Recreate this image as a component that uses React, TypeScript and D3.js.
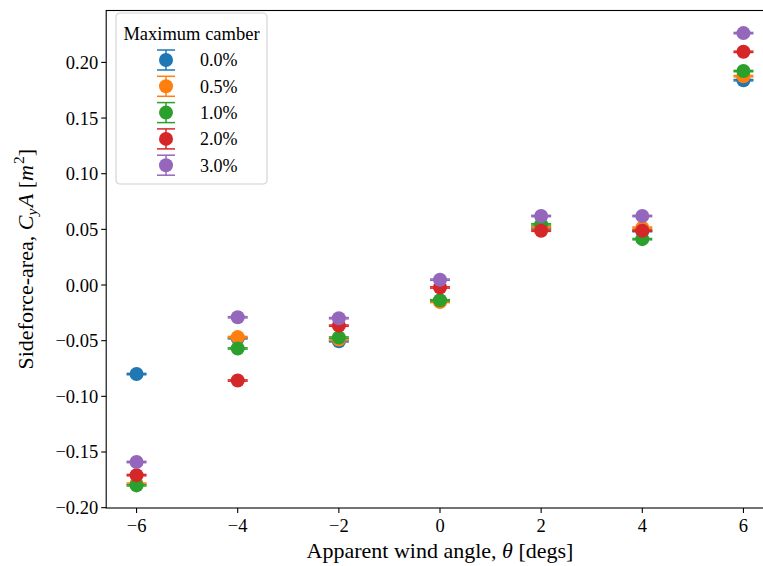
import React from "react";
import * as d3 from "d3";

// apparent wind angle [degs]
const angles = [-6, -4, -2, 0, 2, 4, 6];

const cambers = ["0.0%", "0.5%", "1.0%", "2.0%", "3.0%"];
const colors = ["#1f77b4", "#ff7f0e", "#2ca02c", "#d62728", "#9467bd"];

// sideforce-area C_yA [m^2], one list per camber
const camber00 = [-0.08, -0.0478, -0.0505, -0.0142, 0.051, 0.0485, 0.184];
const camber05 = [-0.1785, -0.0468, -0.049, -0.0152, 0.052, 0.0515, 0.1876];
const camber10 = [-0.18, -0.057, -0.0472, -0.0137, 0.0545, 0.0412, 0.1922];
const camber20 = [-0.1708, -0.0858, -0.0365, -0.0022, 0.0488, 0.0488, 0.2095];
const camber30 = [-0.159, -0.029, -0.0298, 0.0048, 0.062, 0.062, 0.2263];
const series = [camber00, camber05, camber10, camber20, camber30];

// standard error, tiny
const errs = [0.0006, 0.0006, 0.0006, 0.0006, 0.0006, 0.0006, 0.0006];

const xTicks = [-6, -4, -2, 0, 2, 4, 6];
const yTicks = [-0.2, -0.15, -0.1, -0.05, 0, 0.05, 0.1, 0.15, 0.2];

const W = 763;
const H = 566;
const font = "'Liberation Serif', 'Times New Roman', serif";

const fmt = (v: number) => d3.format(".2f")(v).replace("-", "\u2212");

export default function App() {
  // matplotlib style 5% margins
  const xPad = (6 - -6) * 0.05;
  const allY = series.flat();
  const [yLo, yHi] = d3.extent(allY) as [number, number];
  const yPad = (yHi - yLo) * 0.05;

  const x = d3.scaleLinear().domain([-6 - xPad, 6 + xPad]).range([106.2, 773.8]);
  const y = d3.scaleLinear().domain([yLo - yPad, yHi + yPad]).range([508, 10.5]);

  const left = x.range()[0];
  const right = x.range()[1];
  const top = y.range()[1];
  const bottom = y.range()[0];

  const r = 7;
  const cap = 10;

  return (
    <svg
      width={W}
      height={H}
      style={{ position: "absolute", left: 0, top: 0, background: "#fff" }}
      fontFamily={font}
    >
      {/* points with error bars */}
      {series.map((vals, si) => (
        <g key={si} fill={colors[si]} stroke={colors[si]}>
          {vals.map((v, i) => {
            const cx = x(angles[i]);
            const y1 = y(v + errs[i]);
            const y2 = y(v - errs[i]);
            return (
              <g key={i}>
                <line x1={cx} x2={cx} y1={y1} y2={y2} strokeWidth={1.5} />
                <line x1={cx - cap} x2={cx + cap} y1={y1} y2={y1} strokeWidth={1.5} />
                <line x1={cx - cap} x2={cx + cap} y1={y2} y2={y2} strokeWidth={1.5} />
                <circle cx={cx} cy={y(v)} r={r} stroke="none" />
              </g>
            );
          })}
        </g>
      ))}

      {/* frame */}
      <rect
        x={left}
        y={top}
        width={right - left}
        height={bottom - top}
        fill="none"
        stroke="#000"
        strokeWidth={1.1}
      />

      {/* x axis */}
      {xTicks.map((t) => (
        <g key={t} transform={`translate(${x(t)},${bottom})`}>
          <line y2={5} stroke="#000" strokeWidth={1.1} />
          <text y={24} textAnchor="middle" fontSize={18.5}>
            {t < 0 ? "\u2212" + Math.abs(t) : t}
          </text>
        </g>
      ))}

      {/* y axis */}
      {yTicks.map((t) => (
        <g key={t} transform={`translate(${left},${y(t)})`}>
          <line x2={-5} stroke="#000" strokeWidth={1.1} />
          <text x={-8} dy="0.35em" textAnchor="end" fontSize={18.5}>
            {fmt(t)}
          </text>
        </g>
      ))}

      <text x={(left + right) / 2} y={558} textAnchor="middle" fontSize={22}>
        Apparent wind angle, <tspan fontStyle="italic">θ</tspan> [degs]
      </text>

      <text
        transform={`translate(33,${(top + bottom) / 2}) rotate(-90)`}
        textAnchor="middle"
        fontSize={22}
      >
        Sideforce-area, <tspan fontStyle="italic">C</tspan>
        <tspan fontStyle="italic" fontSize={15.5} dy={4}>y</tspan>
        <tspan fontStyle="italic" dx={1.5} dy={-4}>A</tspan> [
        <tspan fontStyle="italic">m</tspan>
        <tspan fontSize={15.5} dx={1} dy={-9}>2</tspan>
        <tspan dy={9}>]</tspan>
      </text>

      {/* legend */}
      <g transform="translate(116,13)">
        <rect
          width={151}
          height={171}
          rx={4}
          fill="#fff"
          fillOpacity={0.8}
          stroke="#d0d0d0"
          strokeWidth={1.1}
        />
        <text x={75.5} y={27} textAnchor="middle" fontSize={18.5}>
          Maximum camber
        </text>
        {cambers.map((c, i) => {
          const ly = 47 + i * 26.3;
          return (
            <g key={c} transform={`translate(50,${ly})`} stroke={colors[i]} fill={colors[i]}>
              <line y1={-10} y2={10} strokeWidth={1.5} />
              <line x1={-9} x2={9} y1={-10} y2={-10} strokeWidth={1.5} />
              <line x1={-9} x2={9} y1={10} y2={10} strokeWidth={1.5} />
              <circle r={r} stroke="none" />
              <text x={34} dy="0.35em" fill="#000" stroke="none" fontSize={18}>
                {c}
              </text>
            </g>
          );
        })}
      </g>
    </svg>
  );
}
